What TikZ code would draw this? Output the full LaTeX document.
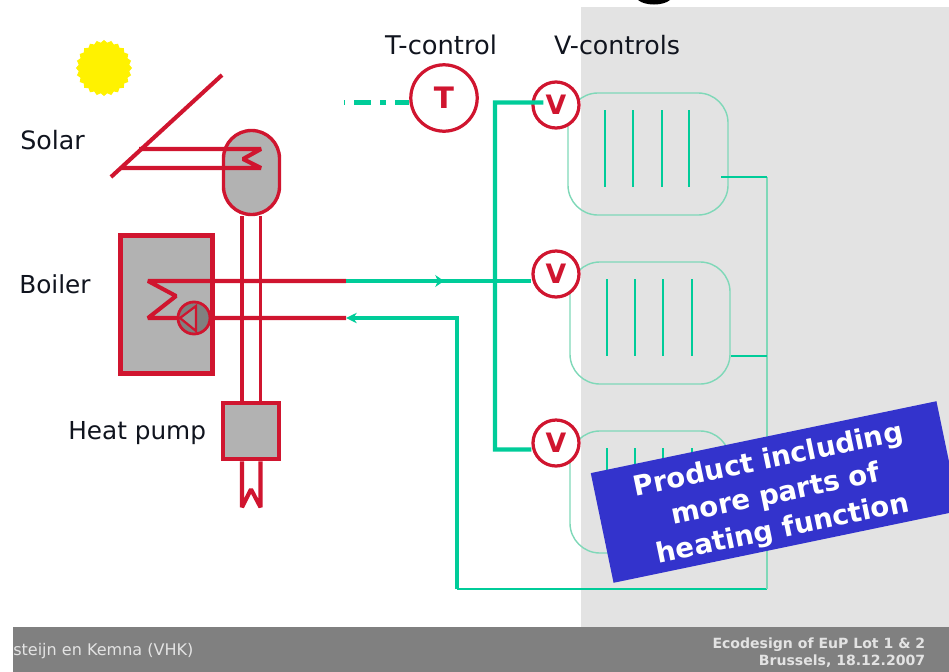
\documentclass[tikz,border=0pt]{standalone}
\usepackage{fontspec}
\setmainfont{DejaVu Sans}
\usetikzlibrary{arrows.meta, positioning, calc, shapes.geometric}
\definecolor{rRed}{HTML}{D0152F}
\definecolor{gGreen}{HTML}{00CC99}
\definecolor{gLight}{HTML}{7FD8B8}
\definecolor{fGray}{HTML}{B2B2B2}
\definecolor{dGray}{HTML}{808080}
\definecolor{pGray}{HTML}{E3E3E3}
\definecolor{pBlue}{HTML}{3333CC}
\definecolor{txtC}{HTML}{10141E}
\tikzset{
  lbl/.style={font=\fontsize{18}{22}\selectfont, text=txtC, inner sep=0pt},
  box/.style={draw=rRed, line width=3.2pt, fill=fGray, inner sep=0pt},
  rp/.style={draw=rRed, line width=2.9pt, line join=bevel},
  vc/.style={circle, draw=rRed, line width=2.3pt, fill=white, minimum size=1.15cm,
    inner sep=0pt, text=rRed, font=\fontsize{19}{19}\selectfont\bfseries},
  G/.style={draw=gGreen, line width=2.9pt},
  Gt/.style={draw=gGreen, line width=2.2pt},
  Gl/.style={draw=gLight, line width=1.4pt},
  rad/.style={draw=gLight, line width=1pt, rounded corners=0.75cm, minimum width=4cm,
    minimum height=3.05cm, inner sep=0pt},
  fin/.style={draw=gGreen, line width=1.3pt},
  foot/.style={text=pGray, inner sep=0pt},
}

\begin{document}
\begin{tikzpicture}[x=0.025cm, y=-0.025cm]
\useasboundingbox (0,0) rectangle (949,672);
\clip (0,0) rectangle (949,672);

% ── background ──────────────────────────────────────────────────────────────
\node[fill=pGray, minimum width=9.2cm, minimum height=15.55cm, inner sep=0pt, anchor=north west] (pnl) at (581,7) {};
\node[fill=dGray, minimum width=23.4cm, minimum height=1.125cm, inner sep=0pt, anchor=north west] (bar) at (13,627) {};
\fill[black] (638,0) .. controls (645,6) and (663,6) .. (670,0) -- cycle;

% ── solar + tank ────────────────────────────────────────────────────────────
\node[star, star points=24, star point ratio=1.1, fill=yellow, minimum size=1.4cm, inner sep=0pt] (sun) at (104,68) {};
\node[lbl, anchor=west] (solar) at (20,140) {Solar};
\coordinate (cb) at (111,177);
\coordinate (ct) at (222,75);
\draw[rp] (cb) -- (ct);
\node[box, line width=2.4pt, rounded corners=0.7cm, minimum width=1.4cm, minimum height=2.1cm] (tank) at (251.5,172.5) {};
\draw[rp] (139,149) -- (261,149) -- (243,159) -- (261,168) -- (121,168);

% ── boiler + heat pump ──────────────────────────────────────────────────────
\node[lbl, anchor=west, font=\fontsize{17.6}{22}\selectfont] (boil) at (19,284) {Boiler};
\node[box, minimum width=2.3cm, minimum height=3.45cm] (blr) at (166.5,304.5) {};
\node[box, minimum width=1.4cm, minimum height=1.4cm] (hp) at (251,431) {};
\node[lbl, left=0.36cm of hp, yshift=-1.4pt, font=\fontsize{17.6}{22}\selectfont] (hplbl) {Heat pump};
\draw[rp, line width=3.2pt] ($(tank.south)+(-9.5,0)$) -- ($(hp.north)+(-9,0)$);
\draw[rp, line width=2.4pt] ($(tank.south)+(9,0)$) -- ($(hp.north)+(9.5,0)$);
\draw[rp] ($(hp.south)+(-9,0)$) -- ++(0,46) -- ++(9,-18) -- ++(9.5,18) -- ($(hp.south)+(9.5,0)$);

% ── boiler coil, pump ───────────────────────────────────────────────────────
\coordinate (hot) at (346,281);
\coordinate (cold) at (346,318);
\draw[rp] (hot) -- (148,281) -- (176,296) -- (148,318) -- (cold);
\node[circle, draw=rRed, line width=2pt, fill=dGray, minimum size=0.8cm, inner sep=0pt] (pmp) at (194,318) {};
\draw[draw=rRed, line width=1.6pt, fill=gray!80] (180,318) -- (196,306) -- (196,331) -- cycle;

% ── radiators ───────────────────────────────────────────────────────────────
\node[rad] (r1) at (648,154) {};
\node[rad] (r2) at (650,323) {};
\node[rad] (r3) at (650,492) {};
\draw[fin] ($(r1.north west)+(38,18)$) -- ++(0,77);
\draw[fin] ($(r1.north west)+(66,18)$) -- ++(0,77);
\draw[fin] ($(r1.north west)+(95,18)$) -- ++(0,77);
\draw[fin] ($(r1.north west)+(122,18)$) -- ++(0,77);
\draw[fin] ($(r2.north west)+(38,18)$) -- ++(0,77);
\draw[fin] ($(r2.north west)+(66,18)$) -- ++(0,77);
\draw[fin] ($(r2.north west)+(94,18)$) -- ++(0,77);
\draw[fin] ($(r2.north west)+(123,18)$) -- ++(0,77);
\draw[fin] ($(r3.north west)+(38,18)$) -- ++(0,77);
\draw[fin] ($(r3.north west)+(66,18)$) -- ++(0,77);
\draw[fin] ($(r3.north west)+(94,18)$) -- ++(0,77);
\draw[fin] ($(r3.north west)+(123,18)$) -- ++(0,77);

% ── controls ────────────────────────────────────────────────────────────────
\node[vc, minimum size=1.66cm, font=\fontsize{21}{21}\selectfont\bfseries] (tc) at (444,98) {T};
\node[lbl, font=\fontsize{18.3}{22}\selectfont] (tclbl) at (441,45) {T-control};
\node[vc] (v1) at (556,105) {V};
\node[vc] (v2) at (556,274) {V};
\node[vc] (v3) at (556,443) {V};
\node[lbl] (vclbl) at (617,45) {V-controls};
\coordinate (ctl) at (344,102.5);
\draw[G, dash pattern=on 12pt off 6.4pt on 4.3pt off 6.6pt, dash phase=2pt] ($(tc.west)+(0,4.5)$) -- (ctl);

% ── return + supply ─────────────────────────────────────────────────────────
\coordinate (j1) at (495,102.5);
\coordinate (j3) at (495,449.5);
\coordinate (sp) at (392,281);
\coordinate (mid) at (444,281);
\coordinate (c1) at (457,318);
\coordinate (c2) at (457,589);
\coordinate (c3) at (767,589);
\coordinate (c4) at (767,177);
\draw[Gt] (hot) -- (sp);
\draw[G] (sp) -- ($(v2.west)+(0,7)$);
\draw[G, line width=1.5pt, -{Stealth[length=2.2mm,width=3mm]}] ($(mid)+(-9,0)$) -- (mid);
\draw[G] ($(v1.west)+(12,-2.5)$) -- (j1) -- (j3) -- ($(v3.west)+(0,6.5)$);
\draw[G, line width=2.4pt, -{Stealth[length=2.7mm,width=2.6mm]}] (c2) -- (c1) -- (cold);
\draw[Gt, line width=1.8pt] (c2) -- (c3);
\draw[Gl] (c3) -- (c4);
\draw[Gt, line width=1pt] (c4) -- ($(r1.east)+(-8,23)$);
\draw[Gt, line width=1pt] ($(r2.east)+(0,33)$) -- ($(c4)+(0,179)$);

% ── product note ────────────────────────────────────────────────────────────
\node[fill=pBlue, rotate=11.75, minimum width=8.825cm, minimum height=2.8cm, inner sep=0pt, align=center,
      text=white, font=\fontsize{19.6}{25}\selectfont\bfseries] (prod) at (775,492)
  {\rule{0pt}{20pt}Product including\\ more parts of\\ heating function};

% ── footer ──────────────────────────────────────────────────────────────────
\node[foot, anchor=west, font=\fontsize{11.4}{12}\selectfont] (ftl) at (13,651) {steijn en Kemna (VHK)};
\node[foot, anchor=east, align=right, font=\fontsize{10}{12}\selectfont\bfseries] (ftr) at (925.5,652.5)
  {Ecodesign of EuP Lot 1 \& 2\\ Brussels, 18.12.2007};

\end{tikzpicture}
\end{document}
